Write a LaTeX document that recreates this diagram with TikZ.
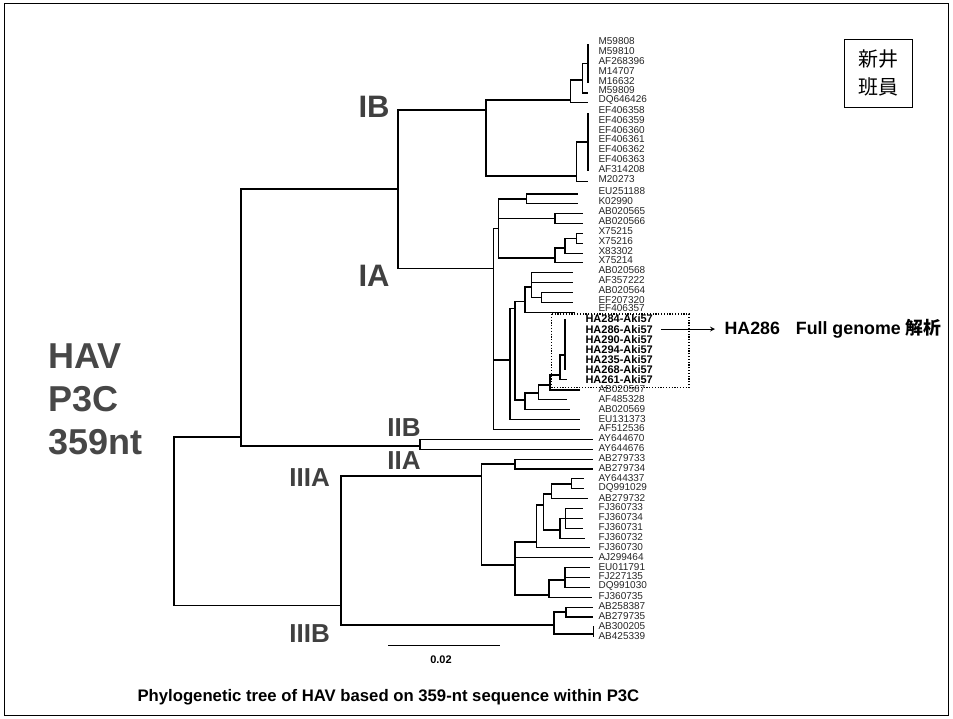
\documentclass[tikz,border=0pt]{standalone}
\usepackage{fontspec}
\setmainfont{Liberation Sans}
\newfontfamily\cjk{Noto Sans CJK JP}
\begin{document}
\begin{tikzpicture}[x=1pt,y=-1pt,>=stealth,line width=1.1pt,
  leaf/.style={anchor=west,inner sep=0pt,font=\fontsize{10}{10}\selectfont,text=black!85},
  haleaf/.style={anchor=west,inner sep=0pt,font=\fontsize{11}{11}\selectfont\bfseries},
  bigclade/.style={inner sep=0pt,font=\fontsize{31}{31}\selectfont\bfseries,text=black!75},
  clade/.style={inner sep=0pt,font=\fontsize{26}{26}\selectfont\bfseries,text=black!75},
  dotbox/.style={line width=1.2pt,dash pattern=on 1.2pt off 1.6pt}]
  \useasboundingbox (0,0) rectangle (953,719);
  \draw[line width=1.5pt] (4.5,3.5) rectangle (948.5,715.5);

  % leaves
  \foreach \i/\y/\tx/\name in {1/44/588/M59808, 2/53.8/588/M59810, 3/63.6/588/AF268396,
    4/73.4/588/M14707, 5/83.2/588/M16632, 6/93/588/M59809, 7/102.8/588/DQ646426,
    8/112.6/588/EF406358, 9/122.4/588/EF406359, 10/132.2/588/EF406360,
    11/142/588/EF406361, 12/151.8/588/EF406362, 13/161.6/588/EF406363,
    14/171.4/588/AF314208, 15/181.2/588/M20273,
    16/194/578/EU251188, 17/203.85/578/K02990, 18/213.7/583/AB020565,
    19/223.55/583/AB020566, 20/233.4/583/X75215, 21/243.25/583/X75216,
    22/253.1/583/X83302, 23/262.95/583/X75214, 24/272.8/573/AB020568,
    25/282.65/573/AF357222, 26/292.5/573/AB020564, 27/302.35/573/EF207320}
  {
    \coordinate (t\i) at (\tx,\y);
    \node[leaf] (l\i) at (598,\y-2.5) {\name};
  }
  \coordinate (t28) at (575,312.2);
  \node[leaf] (l28) at (598,308.4) {EF406357};
  \foreach \i/\y/\tx/\name in {36/390/580/AB020567, 37/399.87/567/AF485328, 38/409.74/570/AB020569,
    39/419.61/580/EU131373, 40/429.48/580/AF512536, 41/439.35/593/AY644670,
    42/449.22/593/AY644676, 43/459.09/593/AB279733, 44/468.96/593/AB279734,
    45/478.83/584/AY644337, 46/488.7/584/DQ991029, 47/498.57/588/AB279732,
    48/508.44/583/FJ360733, 49/518.31/583/FJ360734, 50/528.18/583/FJ360731,
    51/538.05/585/FJ360732, 52/547.92/590/FJ360730, 53/557.79/593/AJ299464,
    54/567.66/590/EU011791, 55/577.53/590/FJ227135, 56/587.4/590/DQ991030,
    57/597.27/592/FJ360735, 58/607.14/593/AB258387, 59/617.01/593/AB279735,
    60/626.88/593/AB300205, 61/636.75/593/AB425339}
  {
    \coordinate (t\i) at (\tx,\y);
    \node[leaf] (l\i) at (598,\y-1) {\name};
  }
  \foreach \i/\y/\tx/\name in {29/319/565/HA284-Aki57, 30/329.1/565/HA286-Aki57,
    31/339.2/565/HA290-Aki57, 32/349.3/565/HA294-Aki57, 33/359.4/565/HA235-Aki57,
    34/369.5/565/HA268-Aki57, 35/379.6/567/HA261-Aki57}
  {
    \coordinate (t\i) at (\tx,\y);
    \node[haleaf] (l\i) at (585,\y) {\name};
  }

  % inner nodes
  \foreach \n/\x/\y in {root/174/521, nI/241/437, nIgrp/398/189, nIB/486/110,
    nIB1/570.7/100, nM/582.7/80, nM0/588/63.6, nIB2/576.7/176, nEF/588/142,
    nIA/493.3/268.3, nIA1/498.3/228.3, nK/526.7/199, nABa/555/218.6,
    nX/555/258, nXa/565/248, nXb/576.7/238.3, nIA2/510/360, nIA3/515/308.3,
    nABc/525/301.7, nABd/531.7/287, nABe/541.7/297.4, nHAc/525/400,
    nHAb/538.3/393, nHAa/550/385, nHA/560/375, nHA0/565/355, nII/420/446,
    nIII/341/605.7, nIIIA/481.7/476, nABf/515/464, nIIIA2/515/565,
    nIIIA3/536.7/542, nC2/543.3/505, nC1/551.7/494, nC0/571.7/484,
    nFJ/560/530, nE/565.7/518.3, nEU/549/595, nEU1/565/580, nIIIB/554/625,
    nABg/566/612, nABh/593.3/634}
    \coordinate (\n) at (\x,\y);

  % branches
  \foreach \p/\c in {root/nI, root/nIII, nI/nIgrp, nI/nII, nIgrp/nIB, nIgrp/nIA,
    nIB/nIB1, nIB/nIB2, nIB1/nM, nIB1/t7, nM/nM0, nM/t6,
    nM0/t1, nM0/t2, nM0/t3, nM0/t4, nM0/t5, nIB2/nEF, nIB2/t15,
    nEF/t8, nEF/t9, nEF/t10, nEF/t11, nEF/t12, nEF/t13, nEF/t14,
    nIA/nIA1, nIA/nIA2, nIA/t40, nIA1/nK, nIA1/nABa, nIA1/nX,
    nK/t16, nK/t17, nABa/t18, nABa/t19, nX/nXa, nX/t23, nXa/nXb, nXa/t22,
    nXb/t20, nXb/t21, nIA2/nIA3, nIA2/t39, nIA3/nABc, nIA3/nHAc,
    nABc/nABd, nABc/t28, nABd/t24, nABd/t25, nABd/nABe, nABe/t26, nABe/t27,
    nHAc/nHAb, nHAc/t38, nHAb/nHAa, nHAb/t37, nHAa/nHA, nHAa/t36,
    nHA/nHA0, nHA/t35, nHA0/t29, nHA0/t30, nHA0/t31, nHA0/t32, nHA0/t33, nHA0/t34,
    nII/t41, nII/t42, nIII/nIIIA, nIII/nIIIB, nIIIA/nABf, nIIIA/nIIIA2,
    nABf/t43, nABf/t44, nIIIA2/nIIIA3, nIIIA2/t53, nIIIA2/nEU,
    nIIIA3/nC2, nIIIA3/t52, nC2/nC1, nC2/nFJ, nC1/nC0, nC1/t47,
    nC0/t45, nC0/t46, nFJ/nE, nFJ/t51, nE/t48, nE/t49, nE/t50,
    nEU/nEU1, nEU/t57, nEU1/t54, nEU1/t55, nEU1/t56,
    nIIIB/nABg, nIIIB/nABh, nABg/t58, nABg/t59, nABh/t60, nABh/t61}
    \draw (\p) |- (\c);

  % clade names
  \node[bigclade] (cIB) at (374,106.7) {IB};
  \node[bigclade] (cIA) at (374,275.8) {IA};
  \node[clade] (cIIB) at (404,427.5) {IIB};
  \node[clade] (cIIA) at (404,461) {IIA};
  \node[clade] (cIIIA) at (309.7,477.3) {IIIA};
  \node[clade] (cIIIB) at (309.7,633.3) {IIIB};

  \node[anchor=north west,inner sep=0pt,align=left,text=black!72,
    font=\fontsize{36}{43}\selectfont\bfseries] (hav) at (48,342.7) {HAV\\P3C\\359nt};

  % scale bar
  \coordinate (sb1) at (388,645.5);
  \coordinate (sb2) at (500,645.5);
  \draw (sb1) -- (sb2);
  \node[inner sep=0pt,font=\fontsize{11}{11}\selectfont\bfseries] (sblabel) at (441,660) {0.02};

  % HA cluster
  \draw[dotbox] (551.7,314) rectangle (689,387.3);
  \node[anchor=west,inner sep=0pt,font=\fontsize{17.8}{17.8}\selectfont\bfseries]
    (genome) at (724,329.1) {HA286\hspace{11pt} Full genome {\cjk 解析}};
  \draw[->,line width=1.2pt] ([xshift=8pt]l30.east) -- ([xshift=-9pt]genome.west);

  \node[draw,line width=1pt,minimum width=68.4pt,minimum height=68pt,inner sep=0pt,
    align=center,font=\cjk\fontsize{20}{28}\selectfont] (stamp) at (878.5,73.3) {新井\\班員};

  \node[anchor=west,inner sep=0pt,font=\fontsize{16.7}{16.7}\selectfont\bfseries]
    (caption) at (137,697) {Phylogenetic tree of HAV based on 359-nt sequence within P3C};
\end{tikzpicture}
\end{document}
